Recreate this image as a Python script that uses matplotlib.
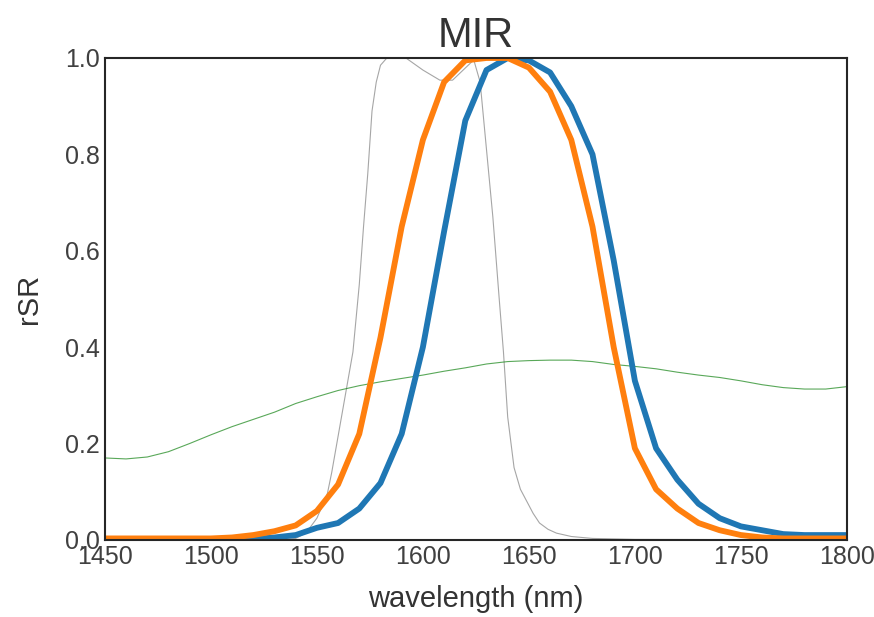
import numpy as np
import matplotlib
matplotlib.use("Agg")
import matplotlib.pyplot as plt

plt.style.use("seaborn-v0_8-white")
plt.rcParams['font.family'] = ['Liberation Sans', 'DejaVu Sans']

# band response, 10 nm steps
wl = [1450, 1460, 1470, 1480, 1490, 1500, 1510, 1520, 1530, 1540, 1550, 1560,
      1570, 1580, 1590, 1600, 1610, 1620, 1630, 1640, 1650, 1660, 1670, 1680,
      1690, 1700, 1710, 1720, 1730, 1740, 1750, 1760, 1770, 1780, 1790, 1800]
rsr_blue = [0.0, 0.0, 0.0, 0.0, 0.0, 0.0, 0.001, 0.002, 0.005, 0.01, 0.025, 0.035,
            0.065, 0.118, 0.22, 0.40, 0.64, 0.87, 0.975, 1.0, 0.995, 0.97, 0.9, 0.8,
            0.58, 0.33, 0.19, 0.125, 0.075, 0.045, 0.028, 0.02, 0.012, 0.01, 0.01, 0.01]
rsr_orange = [0.003, 0.003, 0.003, 0.003, 0.003, 0.003, 0.005, 0.01, 0.018, 0.03, 0.06, 0.115,
              0.22, 0.42, 0.65, 0.83, 0.95, 0.995, 1.0, 1.0, 0.98, 0.93, 0.83, 0.65,
              0.40, 0.19, 0.105, 0.065, 0.035, 0.02, 0.01, 0.005, 0.003, 0.003, 0.003, 0.003]

# reference filter (grey)
wl_ref = [1450, 1530, 1540, 1545, 1550, 1553, 1555, 1557, 1559, 1561, 1563, 1565,
          1567, 1570, 1572, 1574, 1576, 1578, 1580, 1583, 1592, 1600, 1608, 1614,
          1619, 1624, 1627, 1630, 1633, 1636, 1638, 1640, 1643, 1646, 1649, 1652,
          1655, 1659, 1663, 1670, 1680, 1700, 1800]
rsr_ref = [0.0, 0.0, 0.003, 0.015, 0.045, 0.075, 0.097, 0.14, 0.19, 0.24, 0.29, 0.34,
           0.39, 0.53, 0.65, 0.76, 0.89, 0.95, 0.985, 1.0, 1.0, 0.975, 0.954, 0.954,
           0.975, 0.996, 0.95, 0.81, 0.67, 0.5, 0.39, 0.255, 0.15, 0.105, 0.08, 0.055,
           0.035, 0.022, 0.014, 0.007, 0.003, 0.001, 0.0]

# spectrum (green)
spec = [0.17, 0.168, 0.172, 0.183, 0.2, 0.218, 0.235, 0.25, 0.265, 0.283, 0.297, 0.31,
        0.32, 0.328, 0.335, 0.342, 0.35, 0.357, 0.365, 0.37, 0.372, 0.373, 0.373, 0.37,
        0.364, 0.36, 0.355, 0.348, 0.342, 0.337, 0.33, 0.322, 0.316, 0.313, 0.313, 0.318]

fig, ax = plt.subplots(figsize=(8.74, 6.17), dpi=100)
ax.plot(wl_ref, rsr_ref, color='0.65', lw=0.8)
ax.plot(wl, spec, color='forestgreen', lw=0.8, alpha=0.75)
ax.plot(wl, rsr_blue, color='#1f77b4', lw=4.2)
ax.plot(wl, rsr_orange, color='#ff7f0e', lw=4.2)

ax.set_xlim(1450, 1800)
ax.set_ylim(0, 1)
ax.set_title('MIR', fontsize=30, color='0.2', pad=8)
ax.set_xlabel('wavelength (nm)', fontsize=21, color='0.2', labelpad=12)
ax.set_ylabel('rSR', fontsize=21, color='0.2', labelpad=16)
ax.tick_params(labelsize=18, labelcolor='0.25')
for s in ax.spines.values():
    s.set_linewidth(1.5)
    s.set_color('0.15')

fig.subplots_adjust(left=0.12, right=0.969, top=0.906, bottom=0.125)
fig.savefig('out.png', dpi=100)
